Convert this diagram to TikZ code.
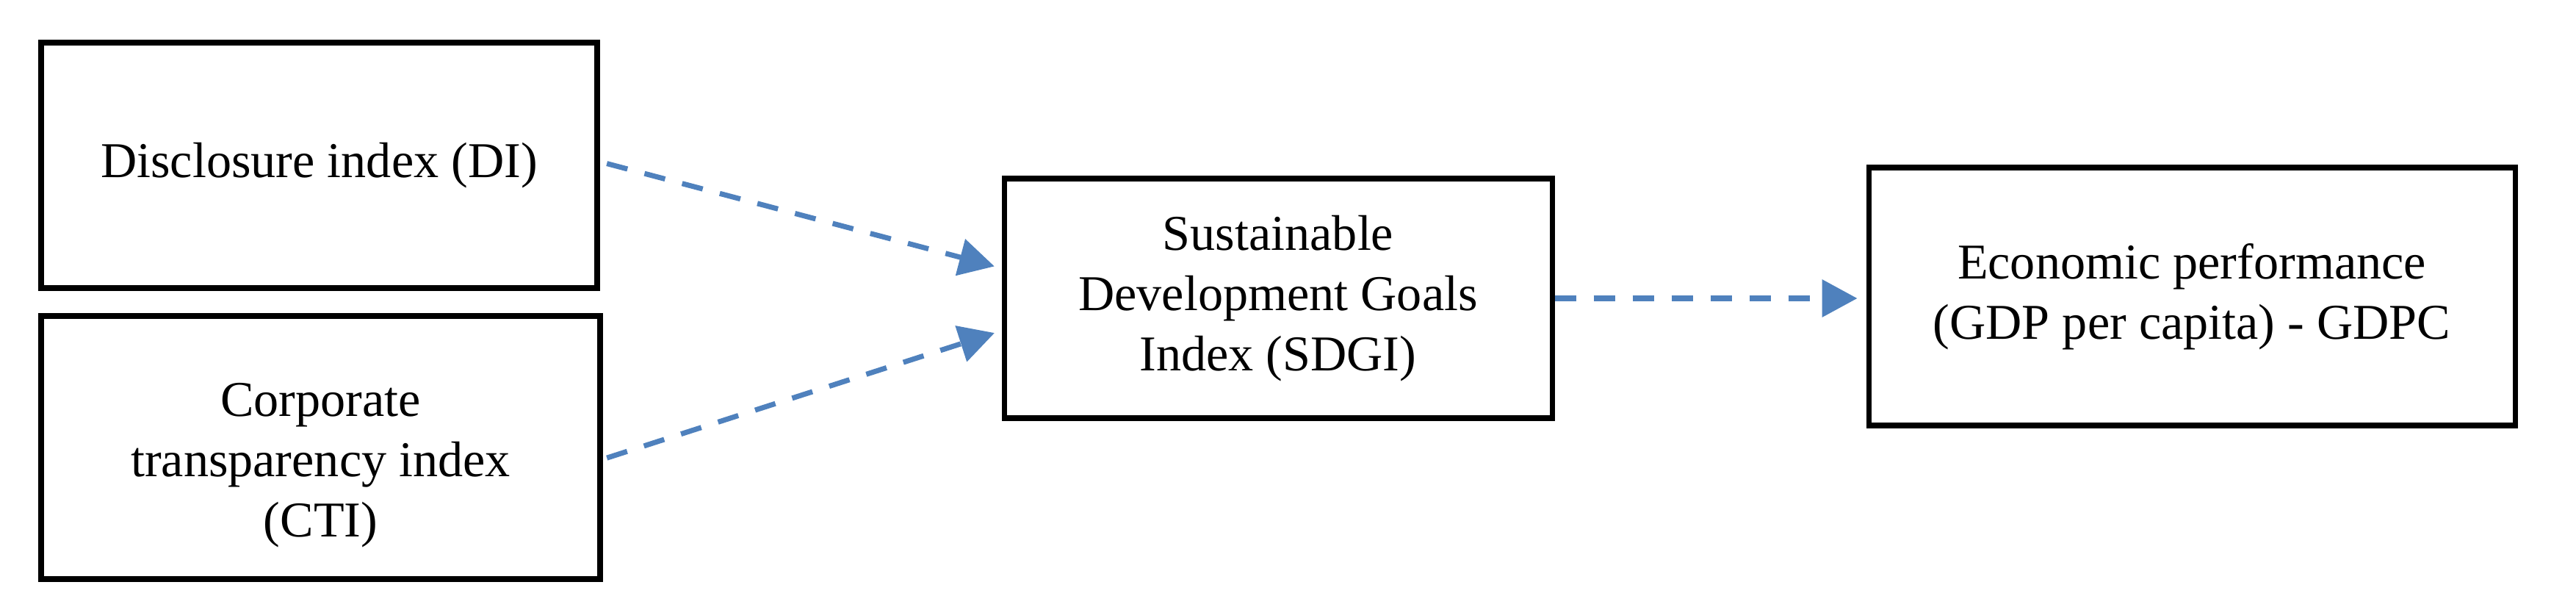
\documentclass[tikz,border=0pt]{standalone}
\usepackage{fontspec}
\setmainfont{Liberation Serif}
\usetikzlibrary{arrows.meta}
\definecolor{flowblue}{RGB}{79,129,189}
\tikzset{
	txt/.style={align=center, font=\fontsize{19.4}{23.3}\selectfont},
	box/.style={txt, draw, line width=2pt},
	flow/.style={flowblue, line width=2pt, dash pattern=on 0.29cm off 0.24cm,
		-{Triangle[length=0.48cm,width=0.50cm]}},
}
\begin{document}
\begin{tikzpicture}
		\useasboundingbox (0,0) rectangle (35.07,8.25);

		% boxes
		\node[box, minimum width=7.57cm, minimum height=3.34cm] (di) at (4.345, 6.00) {Disclosure index (DI)};
		\node[box, minimum width=7.61cm, minimum height=3.58cm] (cti) at (4.365, 2.16) {};
		\node[txt] (ctitext) at ([yshift=-0.24cm]cti.center) {Corporate\\transparency index\\(CTI)};
		\node[box, minimum width=7.46cm, minimum height=3.26cm] (sdgi) at (17.40, 4.19) {Sustainable\\Development Goals\\Index (SDGI)};
		\node[box, minimum width=8.80cm, minimum height=3.51cm] (gdpc) at (29.84, 4.215) {Economic performance\\(GDP per capita) - GDPC};

		% arrows
		\draw[flow, shorten <=0.1cm, shorten >=0.1cm] ([yshift=0.05cm]di.east) -- ([yshift=0.41cm]sdgi.west);
		\draw[flow, shorten <=0.06cm, shorten >=0.1cm] ([yshift=-0.16cm]cti.east) -- ([yshift=-0.44cm]sdgi.west);
		\draw[flow, shorten >=0.12cm] (sdgi.east) -- (sdgi.east -| gdpc.west);
	\end{tikzpicture}
\end{document}
